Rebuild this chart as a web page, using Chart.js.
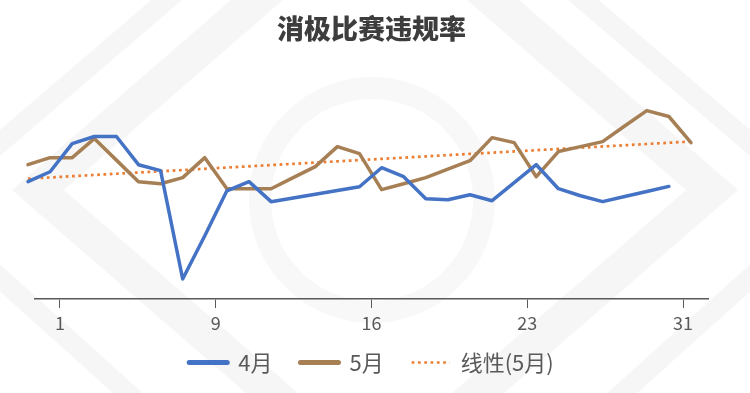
<!DOCTYPE html>
<html>
<head>
<meta charset="utf-8">
<script src="https://cdn.jsdelivr.net/npm/chart.js@4/dist/chart.umd.min.js"></script>
<style>
html,body{margin:0;padding:0;background:#ffffff;}
#wrap{width:750px;height:393px;position:relative;}
</style>
</head>
<body>
<div id="wrap"><canvas id="c" width="750" height="393"></canvas></div>
<script>
// ---- data ----
const chartTitle = '消极比赛违规率';
const seriesNames = ['4月', '5月', '线性(5月)'];
const tickLabels = ['1', '9', '16', '23', '31'];
const days = [1,2,3,4,5,6,7,8,9,10,11,12,13,14,15,16,17,18,19,20,21,22,23,24,25,26,27,28,29,30,31];
const april = [6.16,6.68,8.16,8.53,8.53,7.05,6.74,1.05,3.32,5.68,6.16,5.11,5.30,5.50,5.70,5.89,6.89,6.42,5.26,5.21,5.47,5.16,6.11,7.05,5.79,5.42,5.11,5.38,5.64,5.91];
const may = [7.05,7.42,7.42,8.42,7.29,6.16,6.05,6.37,7.42,5.79,5.79,5.79,6.37,6.95,8.00,7.63,5.74,6.05,6.37,6.82,7.26,8.47,8.21,6.42,7.74,8.00,8.26,9.08,9.89,9.58,8.21];

// linear trendline of May (least squares)
function linearFit(xs, ys) {
  const n = ys.length;
  let sx = 0, sy = 0, sxx = 0, sxy = 0;
  for (let i = 0; i < n; i++) { sx += xs[i]; sy += ys[i]; sxx += xs[i]*xs[i]; sxy += xs[i]*ys[i]; }
  const b = (n*sxy - sx*sy) / (n*sxx - sx*sx);
  const a = (sy - b*sx) / n;
  return {a, b};
}
const fit = linearFit(days.slice(0, may.length), may);
const toPts = (vals) => vals.map((v, i) => ({x: days[i], y: v}));
const trend = days.slice(0, may.length).map(d => ({x: d, y: fit.a + fit.b * d}));

const FONT = "'Noto Sans CJK SC', 'Noto Sans', sans-serif";

const watermark = {
  id: 'watermark',
  beforeDraw(chart) {
    const ctx = chart.ctx;
    ctx.save();
    ctx.fillStyle = '#ffffff';
    ctx.fillRect(0, 0, chart.width, chart.height);
    ctx.lineJoin = 'miter';
    ctx.strokeStyle = '#f6f6f6';
    // right chevrons ">"
    ctx.lineWidth = 34;
    ctx.beginPath();
    ctx.moveTo(470, -20); ctx.lineTo(712, 190); ctx.lineTo(455, 413);
    ctx.stroke();
    ctx.lineWidth = 20;
    ctx.beginPath();
    ctx.moveTo(560, -20); ctx.lineTo(770, 160);
    ctx.moveTo(600, 413); ctx.lineTo(770, 260);
    ctx.stroke();
    // left chevrons "<"
    ctx.lineWidth = 34;
    ctx.beginPath();
    ctx.moveTo(280, -20); ctx.lineTo(38, 190); ctx.lineTo(295, 413);
    ctx.stroke();
    ctx.lineWidth = 20;
    ctx.beginPath();
    ctx.moveTo(190, -20); ctx.lineTo(-20, 160);
    ctx.moveTo(150, 413); ctx.lineTo(-20, 260);
    ctx.stroke();
    // central faint ring logo
    ctx.strokeStyle = '#f8f8f8';
    ctx.lineWidth = 22;
    ctx.beginPath();
    ctx.arc(372, 200, 112, 0, Math.PI * 2);
    ctx.stroke();
    ctx.restore();
  }
};

// the legend sits a little closer to the axis labels than Chart.js places it
const legendNudge = {
  id: 'legendNudge',
  afterLayout(chart) {
    const lg = chart.legend;
    if (lg) { lg.top -= 9; lg.bottom -= 9; }
  }
};

new Chart(document.getElementById('c'), {
  type: 'line',
  data: {
    datasets: [
      {
        label: seriesNames[0],
        data: toPts(april),
        borderColor: '#4472C4',
        backgroundColor: '#4472C4',
        borderWidth: 3.5,
        borderCapStyle: 'round',
        borderJoinStyle: 'round',
        pointRadius: 0,
        tension: 0,
        clip: false
      },
      {
        label: seriesNames[1],
        data: toPts(may),
        borderColor: '#A67F55',
        backgroundColor: '#A67F55',
        borderWidth: 3.5,
        borderCapStyle: 'round',
        borderJoinStyle: 'round',
        pointRadius: 0,
        tension: 0,
        clip: false
      },
      {
        label: seriesNames[2],
        data: trend,
        borderColor: '#ED7D31',
        backgroundColor: '#ED7D31',
        borderWidth: 2.7,
        borderDash: [2.7, 3.6],
        borderCapStyle: 'butt',
        pointRadius: 0,
        tension: 0,
        clip: false
      }
    ]
  },
  options: {
    responsive: false,
    animation: false,
    devicePixelRatio: 1,
    layout: { padding: { left: 35, right: 42, top: 0, bottom: 0.5 } },
    scales: {
      x: {
        type: 'linear',
        display: false,
        min: 1.317,
        max: 31.77
      },
      xt: {
        type: 'linear',
        position: 'bottom',
        min: -0.1605,
        max: 4.1605,
        afterBuildTicks: (axis) => { axis.ticks = tickLabels.map((_, i) => ({ value: i })); },
        afterFit: (axis) => { axis.height = 33.5; },
        ticks: {
          callback: (v) => tickLabels[v],
          color: '#595959',
          font: { family: FONT, size: 18, lineHeight: 1 },
          padding: 6.5,
          maxRotation: 0,
          autoSkip: false
        },
        grid: {
          display: true,
          drawOnChartArea: false,
          drawTicks: true,
          tickLength: 9,
          color: '#595959',
          lineWidth: 1
        },
        border: { display: true, color: '#595959', width: 1.5 }
      },
      y: {
        type: 'linear',
        display: false,
        min: 0,
        max: 12
      }
    },
    plugins: {
      title: {
        display: true,
        text: chartTitle,
        color: '#3d3d3d',
        font: { family: FONT, size: 27, weight: 900 },
        padding: { top: 13, bottom: 25 }
      },
      legend: {
        display: true,
        position: 'bottom',
        labels: {
          color: '#595959',
          font: { family: FONT, size: 22 },
          usePointStyle: true,
          pointStyle: 'line',
          pointStyleWidth: 38,
          padding: 28,
          generateLabels(chart) {
            const items = Chart.defaults.plugins.legend.labels.generateLabels(chart);
            items.forEach((it, i) => {
              const ds = chart.data.datasets[it.datasetIndex];
              it.strokeStyle = ds.borderColor;
              it.lineDash = ds.borderDash || [];
              if (i < 2) { it.lineWidth = 5; it.lineCap = 'round'; }
              else { it.lineWidth = 2.7; it.lineCap = 'butt'; }
            });
            return items;
          }
        }
      },
      tooltip: { enabled: false }
    }
  },
  plugins: [watermark, legendNudge]
});
</script>
</body>
</html>
